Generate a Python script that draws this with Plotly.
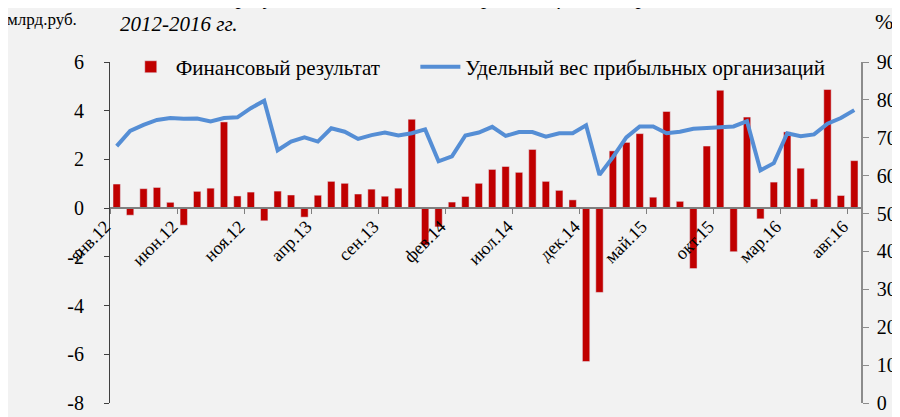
import plotly.graph_objects as go

# months Jan 2012 .. Aug 2016
months = ['янв', 'фев', 'мар', 'апр', 'май', 'июн', 'июл', 'авг', 'сен', 'окт', 'ноя', 'дек']
periods = [f"{m}.{y}" for y in range(12, 17) for m in months][:56]

# financial result, bln rub
fin_result = [0.99, -0.29, 0.80, 0.85, 0.24, -0.70, 0.69, 0.82, 3.54, 0.50,
              0.66, -0.52, 0.70, 0.54, -0.37, 0.53, 1.10, 1.02, 0.58, 0.78,
              0.49, 0.82, 3.65, -1.52, -0.77, 0.25, 0.48, 1.02, 1.59, 1.71,
              1.47, 2.41, 1.10, 0.73, 0.34, -6.30, -3.46, 2.35, 2.70, 3.06,
              0.45, 3.97, 0.28, -2.48, 2.55, 4.84, -1.79, 3.74, -0.44, 1.07,
              3.13, 1.64, 0.38, 4.87, 0.52, 1.95]

# share of profitable organisations, %
share_profit = [67.8, 71.8, 73.4, 74.7, 75.2, 75.0, 75.1, 74.3, 75.2, 75.4,
                77.8, 79.8, 66.7, 69.0, 70.1, 69.0, 72.5, 71.6, 69.7, 70.7,
                71.4, 70.6, 71.2, 72.2, 63.8, 65.1, 70.6, 71.4, 72.9, 70.5,
                71.5, 71.5, 70.3, 71.2, 71.2, 73.3, 60.2, 64.9, 70.1, 73.0,
                73.0, 71.2, 71.6, 72.4, 72.6, 72.8, 73.0, 74.4, 61.4, 63.3,
                71.2, 70.4, 70.9, 73.7, 75.2, 77.3]

left_ticks = [-8, -6, -4, -2, 0, 2, 4, 6]

idx = list(range(len(periods)))
label_idx = idx[::5]

FONT = "Liberation Serif"

fig = go.Figure()
fig.add_trace(go.Bar(x=idx, y=fin_result, name='Финансовый результат',
                     marker_color='#c00000', width=0.55, yaxis='y', legend='legend'))
fig.add_trace(go.Scatter(x=idx, y=share_profit, name='Удельный вес прибыльных организаций',
                         mode='lines', line=dict(color='#558ed5', width=4), yaxis='y2',
                         legend='legend2'))

leg = dict(orientation='h', y=0.985, yanchor='middle', xanchor='left',
           bgcolor='rgba(0,0,0,0)', font=dict(family=FONT, size=21), itemwidth=40)

fig.update_layout(
    width=900, height=417,
    margin=dict(l=102, r=43, t=54, b=11),
    paper_bgcolor='#f2f2f2', plot_bgcolor='#f2f2f2',
    font=dict(family=FONT, size=19, color='black'),
    showlegend=True,
    legend=dict(leg, x=0.021),
    legend2=dict(leg, x=0.4066),
    xaxis=dict(range=[-0.5, len(periods) - 0.5],
               tickmode='array', tickvals=[i - 0.1 for i in label_idx],
               ticktext=[periods[i] for i in label_idx],
               tickangle=-45, ticks='', tickfont=dict(family=FONT, size=18),
               ticklabelshift=-10,
               showline=True, linecolor='#7f7f7f', linewidth=1.5,
               showgrid=False, zeroline=False,
               anchor='free', position=8 / 14,
               minor=dict(tickmode='array', tickvals=[i - 0.5 for i in label_idx],
                          ticks='outside', ticklen=5, tickcolor='#7f7f7f', showgrid=False)),
    yaxis=dict(range=[-8, 6], tickmode='array', tickvals=left_ticks,
               ticktext=[str(v) for v in left_ticks],
               showgrid=False, zeroline=False,
               showline=True, linecolor='#404040', linewidth=1,
               ticks='outside', ticklen=5, tickcolor='#404040',
               ticklabelstandoff=16,
               tickfont=dict(family=FONT, size=20)),
    yaxis2=dict(range=[0, 90], dtick=10, overlaying='y', side='right',
                showgrid=False, zeroline=False,
                showline=True, linecolor='#8c8c8c', linewidth=1.5,
                ticks='outside', ticklen=6, tickcolor='#8c8c8c',
                ticklabelstandoff=4,
                tickfont=dict(family=FONT, size=20)),
)

fig.add_annotation(text='Финансовый результат деятельности организаций  за период<br>2012-2016 гг.',
                   xref='paper', yref='paper', x=0.01, y=1.069, xanchor='left', yanchor='bottom',
                   align='left', showarrow=False,
                   font=dict(family=FONT, size=21, style='italic'))
fig.add_annotation(text='млрд.руб.', xref='paper', yref='paper', x=-0.140, y=1.125,
                   xanchor='left', yanchor='middle', showarrow=False,
                   font=dict(family=FONT, size=17))
fig.add_annotation(text='%', xref='paper', yref='paper', x=1.031, y=1.12,
                   xanchor='center', yanchor='middle', showarrow=False,
                   font=dict(family=FONT, size=22))

fig.write_html("out.html")
